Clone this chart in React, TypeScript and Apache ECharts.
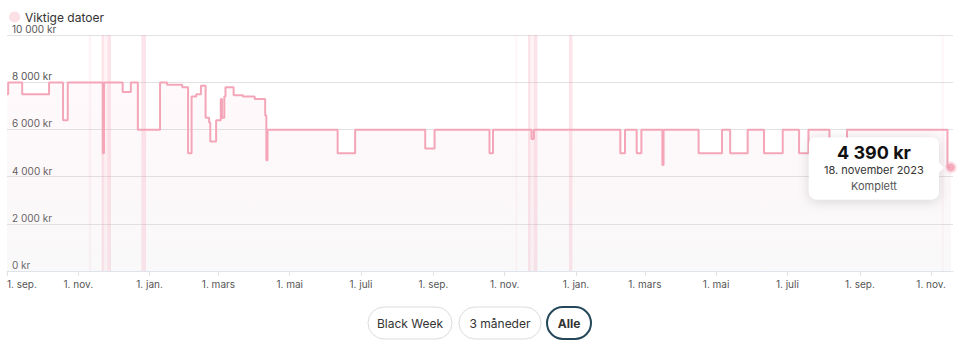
import React, { useEffect, useRef } from 'react';
import * as echarts from 'echarts';

// Price change events (price holds from date until next change)
const changeDates = [
  '2021-09-01', '2021-09-02', '2021-09-14', '2021-10-07', '2021-10-19', '2021-10-23',
  '2021-11-22', '2021-11-23', '2021-12-09', '2021-12-16', '2021-12-22',
  '2022-01-10', '2022-01-16', '2022-01-29', '2022-02-03', '2022-02-06', '2022-02-10',
  '2022-02-14', '2022-02-18', '2022-02-21', '2022-02-22', '2022-02-27', '2022-03-03',
  '2022-03-04', '2022-03-06', '2022-03-07', '2022-03-14', '2022-03-22', '2022-04-01',
  '2022-04-10', '2022-04-11', '2022-04-12',
  '2022-06-11', '2022-06-26', '2022-08-25', '2022-09-02', '2022-10-19', '2022-10-22',
  '2022-11-24', '2022-11-26',
  '2023-02-08', '2023-02-12', '2023-02-22', '2023-02-26', '2023-03-16', '2023-03-17',
  '2023-04-16', '2023-05-06', '2023-05-13', '2023-05-28', '2023-06-11', '2023-06-27',
  '2023-07-11', '2023-07-19', '2023-08-06', '2023-08-21', '2023-11-15', '2023-11-18',
];
const changePrices = [
  7490, 7990, 7490, 7990, 6390, 7990,
  4990, 7990, 7590, 7990, 5990,
  7990, 7890, 7790, 4990, 7390, 7490,
  7850, 6490, 6290, 5490, 6390, 7290,
  6490, 7390, 7790, 7450, 7390, 7290,
  6590, 4690, 5990,
  4990, 5990, 5190, 5990, 4990, 5990,
  5590, 5990,
  4990, 5990, 4990, 5990, 4490, 5990,
  4990, 5990, 4990, 5990, 4990, 5990,
  4990, 5990, 4990, 5990, 4390, 4390,
];

const tickDates = [
  '2021-09-01', '2021-11-01', '2022-01-01', '2022-03-01', '2022-05-01', '2022-07-01', '2022-09-01',
  '2022-11-01', '2023-01-01', '2023-03-01', '2023-05-01', '2023-07-01', '2023-09-01', '2023-11-01',
];
const tickLabels = [
  '1. sep.', '1. nov.', '1. jan.', '1. mars', '1. mai', '1. juli', '1. sep.',
  '1. nov.', '1. jan.', '1. mars', '1. mai', '1. juli', '1. sep.', '1. nov.',
];

// Important dates ("Viktige datoer")
const bandStarts = [
  '2021-11-10', '2021-11-21', '2021-11-21', '2021-11-26', '2021-12-25',
  '2022-11-10', '2022-11-21', '2022-11-21', '2022-11-26', '2022-12-26', '2023-11-10',
];
const bandEnds = [
  '2021-11-12', '2021-11-29', '2021-11-23', '2021-11-29', '2021-12-29',
  '2022-11-12', '2022-11-29', '2022-11-23', '2022-11-29', '2022-12-29', '2023-11-12',
];
const bandAlpha = [0.1, 0.1, 0.18, 0.18, 0.25, 0.08, 0.1, 0.18, 0.18, 0.25, 0.08];

const tipPrice = '4 390 kr';
const tipDate = '18. november 2023';
const tipShop = 'Komplett';
const buttonLabels = ['Black Week', '3 måneder', 'Alle'];

const FONT = 'Inter, "Noto Sans", sans-serif';

function ts(s: string) {
  const [y, m, d] = s.split('-').map(Number);
  return new Date(y, m - 1, d).getTime();
}

function fmtKr(v: number) {
  return String(v).replace(/\B(?=(\d{3})+(?!\d))/g, ' ') + ' kr';
}

export default function App() {
  const ref = useRef<HTMLDivElement>(null);
  useEffect(() => {
    if (!ref.current) return;
    const chart = echarts.init(ref.current, undefined, { renderer: 'svg' });
    const tickTs = tickDates.map(ts);
    const lineData = changeDates.map((d, i) => [ts(d), changePrices[i]]);
    const last = lineData[lineData.length - 1];

    chart.setOption({
      animation: false,
      grid: { left: 7, right: 7, top: 35, bottom: 81 },
      legend: {
        left: 4,
        top: 6,
        icon: 'circle',
        itemWidth: 11,
        itemHeight: 11,
        itemGap: 10,
        data: ['Viktige datoer'],
        textStyle: { fontSize: 12, color: '#333', fontFamily: FONT },
      },
      xAxis: {
        type: 'value',
        min: ts('2021-09-01'),
        max: ts('2023-11-19') + 18 * 3600 * 1000,
        axisLine: { lineStyle: { color: '#dfe3ea' } },
        axisTick: { show: true, length: 5, lineStyle: { color: '#dfe3ea' }, customValues: tickTs },
        splitLine: { show: false },
        axisLabel: {
          customValues: tickTs,
          alignMinLabel: 'left',
          fontSize: 10,
          color: '#555',
          fontFamily: FONT,
          margin: 8,
          formatter: (v: number) => {
            const i = tickTs.indexOf(v);
            return i >= 0 ? tickLabels[i] : '';
          },
        },
      },
      yAxis: {
        type: 'value',
        min: 0,
        max: 10000,
        interval: 2000,
        axisLine: { show: false },
        axisTick: { show: false },
        splitLine: { lineStyle: { color: '#e2e2e2' } },
        axisLabel: {
          inside: true,
          margin: 5,
          verticalAlign: 'bottom',
          padding: [0, 0, 1, 0],
          fontSize: 10,
          color: '#555',
          fontFamily: FONT,
          formatter: (v: number) => fmtKr(v),
        },
      },
      series: [
        {
          name: 'Viktige datoer',
          type: 'line',
          data: [],
          color: '#fbe0e6',
          markArea: {
            silent: true,
            data: bandStarts.map((s, i) => [
              { xAxis: ts(s), itemStyle: { color: `rgba(242,150,172,${bandAlpha[i]})` } },
              { xAxis: ts(bandEnds[i]) },
            ]),
          },
        },
        {
          name: 'Pris',
          type: 'line',
          step: 'end',
          data: lineData,
          showSymbol: false,
          symbol: 'none',
          lineStyle: { color: '#f4a6b8', width: 2 },
          areaStyle: {
            color: new echarts.graphic.LinearGradient(0, 0, 0, 1, [
              { offset: 0, color: 'rgba(245,170,190,0.10)' },
              { offset: 1, color: 'rgba(215,215,222,0.22)' },
            ]),
          },
          z: 3,
        },
        {
          name: 'Siste',
          type: 'scatter',
          data: [last],
          symbolSize: 8,
          itemStyle: { color: '#f39db2', borderColor: 'rgba(243,157,178,0.35)', borderWidth: 4 },
          z: 5,
        },
      ],
    });

    const p = chart.convertToPixel({ gridIndex: 0 }, last) as number[];
    const px = p[0];
    const py = p[1];
    const btnY = 307;
    const btnH = 32;
    const btns = [
      { x: 368, w: 84 },
      { x: 459, w: 82 },
      { x: 547, w: 44 },
    ];
    chart.setOption({
      graphic: [
        {
          type: 'group',
          z: 100,
          children: [
            {
              type: 'rect',
              z: 100,
              shape: { x: px - 142, y: py - 30, width: 130, height: 62, r: 7 },
              style: { fill: '#fff', shadowBlur: 12, shadowColor: 'rgba(0,0,0,0.14)', shadowOffsetY: 2 },
            },
            {
              type: 'polygon',
              z: 100,
              shape: { points: [[px - 13, py - 6], [px - 7, py], [px - 13, py + 6]] },
              style: { fill: '#fff' },
            },
            {
              type: 'text',
              z: 101,
              style: {
                text: tipPrice, x: px - 77, y: py - 15, textAlign: 'center', textVerticalAlign: 'middle',
                fill: '#111', fontSize: 18, fontWeight: 'bold', fontFamily: FONT,
              },
            },
            {
              type: 'text',
              z: 101,
              style: {
                text: tipDate, x: px - 77, y: py + 3, textAlign: 'center', textVerticalAlign: 'middle',
                fill: '#333', fontSize: 11, fontFamily: FONT,
              },
            },
            {
              type: 'text',
              z: 101,
              style: {
                text: tipShop, x: px - 77, y: py + 19, textAlign: 'center', textVerticalAlign: 'middle',
                fill: '#555', fontSize: 11, fontFamily: FONT,
              },
            },
          ],
        },
        ...buttonLabels.map((label, i) => {
          const b = btns[i];
          const active = i === buttonLabels.length - 1;
          return {
            type: 'group',
            children: [
              {
                type: 'rect',
                shape: { x: b.x, y: btnY, width: b.w, height: btnH, r: btnH / 2 },
                style: {
                  fill: '#fff',
                  stroke: active ? '#24485a' : '#dcdcdc',
                  lineWidth: active ? 2 : 1,
                },
              },
              {
                type: 'text',
                style: {
                  text: label, x: b.x + b.w / 2, y: btnY + btnH / 2, textAlign: 'center',
                  textVerticalAlign: 'middle', fill: '#333', fontSize: 12,
                  fontWeight: active ? 'bold' : 'normal', fontFamily: FONT,
                },
              },
            ],
          };
        }),
      ],
    });

    return () => chart.dispose();
  }, []);
  return <div ref={ref} style={{ position: 'absolute', left: 0, top: 0, width: 960, height: 352 }} />;
}
